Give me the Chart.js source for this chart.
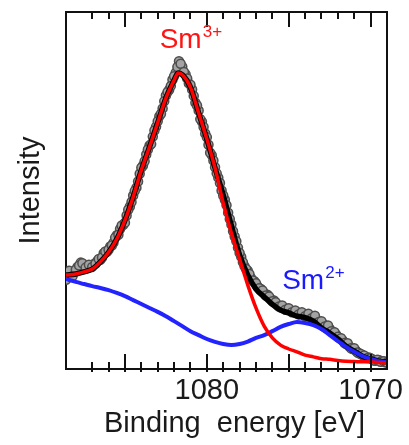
<!DOCTYPE html>
<html>
<head>
<meta charset="utf-8">
<script src="https://cdn.jsdelivr.net/npm/chart.js@4.4.1/dist/chart.umd.min.js"></script>
<style>
  html, body { margin: 0; padding: 0; background: #ffffff; }
  #wrap { width: 409px; height: 445px; position: relative; }
</style>
</head>
<body>
<div id="wrap"><canvas id="c" width="409" height="445"></canvas></div>
<script>
// ---------- data ----------
const tickLabels = ['1080', '1070'];

const fitEnergy = [1088.6, 1088, 1087.5, 1087, 1086.5, 1086, 1085.5, 1085, 1084.5, 1084,
  1083.5, 1083, 1082.5, 1082, 1081.75, 1081.5, 1081, 1080.5, 1080, 1079.5,
  1079, 1078.5, 1078, 1077.5, 1077, 1076.5, 1076, 1075.5, 1075, 1074.5,
  1074, 1073.5, 1073, 1072.5, 1072, 1071.5, 1071, 1070.5, 1070, 1069.5, 1069];

const sm3Fit = [26.3, 26.6, 27.2, 28.0, 30.0, 32.7, 36.4, 41.7, 48.2, 55.7,
  62.2, 69.0, 75.9, 80.9, 82.9, 82.4, 78.9, 71.7, 64.4, 56.3,
  46.5, 38.1, 30.8, 23.5, 17.1, 12.0, 8.7, 6.7, 5.6, 4.8,
  3.9, 3.4, 2.9, 2.7, 2.4, 2.2, 2.1, 2.0, 2.0, 1.8, 1.7];

const sm2Fit = [25.2, 24.4, 23.8, 23.2, 22.7, 22.1, 21.3, 20.4, 19.3, 18.2,
  17.1, 16.0, 14.8, 13.4, 12.7, 12.0, 10.6, 9.5, 8.4, 7.6,
  7.0, 6.7, 7.0, 7.7, 8.7, 9.5, 10.6, 11.8, 12.6, 13.2,
  12.9, 12.3, 11.2, 9.5, 7.8, 6.2, 4.8, 3.6, 2.8, 2.2, 2.0];

const envelopeFit = [26.3, 26.6, 27.2, 28.0, 30.0, 32.7, 36.4, 41.7, 48.2, 55.7,
  62.2, 69.0, 75.9, 80.9, 82.9, 82.4, 78.9, 71.7, 64.4, 56.3,
  48.7, 40.1, 31.9, 26.3, 22.4, 20.2, 18.1, 16.5, 15.7, 14.8,
  14.4, 13.4, 11.5, 10.1, 8.4, 6.4, 5.0, 3.6, 2.8, 2.2, 2.0];

const measEnergyA = [
  1088.6, 1088.4, 1088.2, 1088.0, 1087.8, 1087.6, 1087.4, 1087.2, 1087.0, 1086.8,
  1086.6, 1086.4, 1086.2, 1086.0, 1085.8, 1085.6, 1085.4, 1085.2, 1085.0, 1084.8,
  1084.6, 1084.4, 1084.2, 1084.0, 1083.8, 1083.6, 1083.4, 1083.2, 1083.0, 1082.8,
  1082.6, 1082.4, 1082.2, 1082.0, 1081.8, 1081.6, 1081.4, 1081.2, 1081.0, 1080.8,
  1080.6, 1080.4, 1080.2, 1080.0, 1079.8, 1079.6, 1079.4, 1079.2, 1079.0, 1078.8,
  1078.6, 1078.4, 1078.2, 1078.0, 1077.8, 1077.6, 1077.4, 1077.2, 1077.0, 1076.8,
  1076.6, 1076.4, 1076.2, 1076.0, 1075.8, 1075.6, 1075.4, 1075.2, 1075.0, 1074.8,
  1074.6, 1074.4, 1074.2, 1074.0, 1073.8, 1073.6, 1073.4, 1073.2, 1073.0, 1072.8,
  1072.6, 1072.4, 1072.2, 1072.0, 1071.8, 1071.6, 1071.4, 1071.2, 1071.0, 1070.8,
  1070.6, 1070.4, 1070.2, 1070.0, 1069.8, 1069.6, 1069.4, 1069.2, 1069.0];

const measIntensityA = [
  25.0, 27.5, 26.0, 27.8, 29.0, 29.6, 28.4, 29.2, 28.6, 29.5,
  30.8, 31.2, 32.9, 33.4, 34.6, 36.8, 37.6, 40.2, 41.0, 44.6,
  46.8, 49.9, 52.5, 56.4, 58.2, 61.5, 63.0, 66.8, 69.4, 71.5,
  75.0, 77.6, 79.3, 82.0, 84.6, 85.5, 83.2, 81.4, 79.6, 76.5,
  73.8, 70.0, 67.8, 64.9, 60.6, 58.4, 54.8, 52.1, 48.6, 45.9,
  42.0, 38.6, 35.8, 32.5, 29.9, 28.0, 26.6, 24.8, 24.0, 22.6,
  22.0, 20.6, 20.3, 19.0, 18.7, 17.5, 17.8, 16.6, 17.0, 15.9,
  16.4, 15.3, 15.9, 14.8, 15.5, 14.2, 14.9, 13.1, 13.4, 11.9,
  12.2, 10.6, 10.3, 9.0, 8.6, 7.3, 7.2, 5.8, 5.8, 4.6,
  4.2, 3.8, 3.1, 3.0, 2.4, 2.6, 2.0, 2.2, 1.8];

const measEnergyB = [
  1088.5, 1088.3, 1088.1, 1087.9, 1087.7, 1087.5, 1087.3, 1087.1, 1086.9, 1086.7,
  1086.5, 1086.3, 1086.1, 1085.9, 1085.7, 1085.5, 1085.3, 1085.1, 1084.9, 1084.7,
  1084.5, 1084.3, 1084.1, 1083.9, 1083.7, 1083.5, 1083.3, 1083.1, 1082.9, 1082.7,
  1082.5, 1082.3, 1082.1, 1081.9, 1081.7, 1081.5, 1081.3, 1081.1, 1080.9, 1080.7,
  1080.5, 1080.3, 1080.1, 1079.9, 1079.7, 1079.5, 1079.3, 1079.1, 1078.9, 1078.7,
  1078.5, 1078.3, 1078.1, 1077.9, 1077.7, 1077.5, 1077.3, 1077.1, 1076.9, 1076.7,
  1076.5, 1076.3, 1076.1, 1075.9, 1075.7, 1075.5, 1075.3, 1075.1, 1074.9, 1074.7,
  1074.5, 1074.3, 1074.1, 1073.9, 1073.7, 1073.5, 1073.3, 1073.1, 1072.9, 1072.7,
  1072.5, 1072.3, 1072.1, 1071.9, 1071.7, 1071.5, 1071.3, 1071.1, 1070.9, 1070.7,
  1070.5, 1070.3, 1070.1, 1069.9, 1069.7, 1069.5, 1069.3, 1069.1];

const measIntensityB = [
  26.4, 26.9, 27.3, 28.6, 29.8, 28.9, 28.7, 28.9, 29.4, 30.2,
  30.6, 32.4, 32.8, 34.3, 35.4, 37.5, 39.2, 40.4, 43.0, 45.5,
  48.6, 50.8, 54.7, 57.0, 60.1, 62.6, 65.1, 67.9, 70.8, 73.0,
  76.6, 78.2, 81.0, 83.0, 86.2, 84.7, 82.6, 80.0, 78.3, 74.6,
  72.4, 69.3, 66.0, 62.8, 59.9, 56.5, 53.6, 50.0, 47.4, 43.8,
  40.5, 37.1, 34.0, 31.4, 28.8, 27.5, 25.5, 24.6, 23.1, 22.4,
  21.2, 20.8, 19.6, 19.2, 18.0, 17.3, 17.1, 16.9, 16.3, 16.0,
  15.8, 15.6, 15.2, 15.0, 14.6, 14.7, 13.8, 13.0, 12.6, 12.0,
  11.3, 10.4, 9.6, 8.7, 8.0, 7.0, 6.3, 5.6, 5.1, 4.4,
  3.9, 3.4, 3.2, 2.7, 2.3, 2.5, 2.1, 1.9];

const peakLabels = [
  { main: 'Sm', sup: '3+', energy: 1082.88, intensity: 89.9, color: '#ff1414' },
  { main: 'Sm', sup: '2+', energy: 1075.4, intensity: 22.4, color: '#1a1aff' }
];

// ---------- helpers ----------
const FONT = "'Liberation Sans', Arial, sans-serif";
const pairs = (xs, ys) => xs.map((x, i) => ({ x: x, y: ys[i] }));

const framePlugin = {
  id: 'frameTicks',
  afterDatasetsDraw(chart) {
    const { ctx, chartArea: a, scales: { x } } = chart;
    ctx.save();
    ctx.strokeStyle = '#111';
    ctx.lineWidth = 2;
    ctx.beginPath();
    ctx.moveTo(a.left - 1, a.top);
    ctx.lineTo(a.right, a.top);
    ctx.lineTo(a.right, a.bottom);
    ctx.stroke();
    x.ticks.forEach(t => {
      if (Math.abs(t.value - Math.round(t.value)) > 1e-6) return;
      const px = Math.round(x.getPixelForValue(t.value));
      if (px <= a.left + 2 || px >= a.right - 2) return;
      const major = Math.round(t.value) % 5 === 0;
      const len = major ? 15 : 7;
      ctx.beginPath();
      ctx.moveTo(px, a.bottom + 3);
      ctx.lineTo(px, a.bottom - len);
      ctx.moveTo(px, a.top - 1);
      ctx.lineTo(px, a.top + len);
      ctx.stroke();
    });
    ctx.restore();
  }
};

const labelPlugin = {
  id: 'peakLabels',
  afterDraw(chart) {
    const { ctx, scales: { x, y } } = chart;
    ctx.save();
    ctx.textBaseline = 'alphabetic';
    ctx.textAlign = 'left';
    peakLabels.forEach(l => {
      const px = x.getPixelForValue(l.energy);
      const py = y.getPixelForValue(l.intensity);
      ctx.fillStyle = l.color;
      ctx.font = '28px ' + FONT;
      ctx.fillText(l.main, px, py);
      const w = ctx.measureText(l.main).width;
      ctx.font = '17px ' + FONT;
      ctx.fillText(l.sup, px + w + 1, py - 11);
    });
    ctx.restore();
  }
};

const measuredStyle = {
  showLine: false,
  pointRadius: 4.5,
  pointBorderWidth: 1.5,
  pointBackgroundColor: '#a3a3a3',
  pointBorderColor: '#4d4d4d',
  pointStyle: 'circle'
};

new Chart(document.getElementById('c'), {
  type: 'line',
  data: {
    datasets: [
      { label: 'Sm3+', data: pairs(fitEnergy, sm3Fit), borderColor: '#ff0000', borderWidth: 3.5,
        pointRadius: 0, cubicInterpolationMode: 'monotone', fill: false },
      { label: 'Sm2+', data: pairs(fitEnergy, sm2Fit), borderColor: '#2323ff', borderWidth: 4,
        pointRadius: 0, cubicInterpolationMode: 'monotone', fill: false },
      { label: 'Envelope', data: pairs(fitEnergy, envelopeFit), borderColor: '#000000', borderWidth: 5.5,
        pointRadius: 0, cubicInterpolationMode: 'monotone', fill: false },
      Object.assign({ label: 'Measured A', data: pairs(measEnergyA, measIntensityA) }, measuredStyle),
      Object.assign({ label: 'Measured B', data: pairs(measEnergyB, measIntensityB) }, measuredStyle)
    ]
  },
  options: {
    responsive: false,
    animation: false,
    events: [],
    layout: { padding: { top: 12, right: 22, left: 0, bottom: 0 } },
    plugins: { legend: { display: false }, tooltip: { enabled: false } },
    scales: {
      x: {
        type: 'linear',
        reverse: true,
        min: 1069,
        max: 1088.6,
        afterFit: s => { s.height = 76; },
        grid: { display: false, drawTicks: false },
        border: { display: true, color: '#111', width: 2 },
        ticks: {
          stepSize: 1,
          autoSkip: false,
          maxRotation: 0,
          padding: 5,
          color: '#1a1a1a',
          font: { family: FONT, size: 29 },
          callback: v => (tickLabels.includes(String(v)) ? String(v) : '')
        },
        title: {
          display: true,
          text: '  Binding  energy [eV]',
          color: '#1a1a1a',
          font: { family: FONT, size: 29, lineHeight: 1.2 },
          padding: { top: 0, bottom: 4 }
        }
      },
      y: {
        type: 'linear',
        min: 0,
        max: 100,
        afterFit: s => { s.width = 66; },
        grid: { display: false, drawTicks: false },
        border: { display: true, color: '#111', width: 2 },
        ticks: { display: false },
        title: {
          display: true,
          text: 'Intensity',
          color: '#1a1a1a',
          font: { family: FONT, size: 29, lineHeight: 1.2 },
          padding: { top: 14, bottom: 0 }
        }
      }
    }
  },
  plugins: [framePlugin, labelPlugin]
});
</script>
</body>
</html>
